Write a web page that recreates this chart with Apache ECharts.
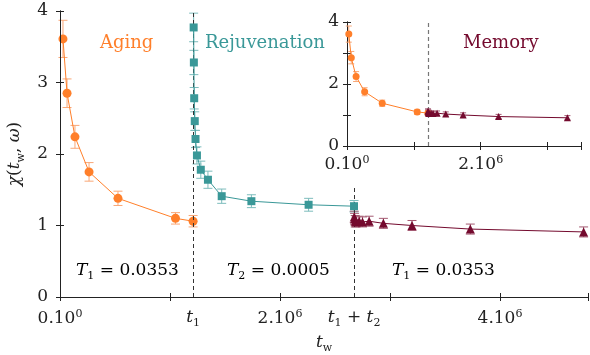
<!DOCTYPE html>
<html>
<head>
<meta charset="utf-8">
<script src="https://cdn.jsdelivr.net/npm/echarts@6/dist/echarts.min.js"></script>
<style>
html, body { margin: 0; padding: 0; background: #fff; }
#box1 { width: 590px; height: 355px; }
</style>
</head>
<body>
<div id="box1"></div>
<script>
var dom = document.getElementById("box1");
var myChart = echarts.init(dom);

// waiting times (same units as the axis) and susceptibility values
var t1 = 1210000;
var t2 = 1463000;

var agingX = [27000, 64000, 136000, 264000, 527000, 1050000, 1210000];
var agingY = [3.61, 2.85, 2.24, 1.75, 1.38, 1.10, 1.06];
var agingErr = [0.26, 0.20, 0.16, 0.13, 0.10, 0.08, 0.08];

var rejuvX = [1215000, 1217000, 1220000, 1225000, 1232000, 1245000, 1280000, 1345000, 1470000, 1740000, 2260000, 2673000];
var rejuvY = [3.77, 3.28, 2.78, 2.46, 2.21, 1.98, 1.78, 1.64, 1.41, 1.34, 1.29, 1.27];
var rejuvErr = [0.20, 0.17, 0.15, 0.13, 0.12, 0.12, 0.12, 0.12, 0.10, 0.09, 0.09, 0.08];

var memoryX = [2675000, 2678000, 2684000, 2692000, 2720000, 2750000, 2810000, 2940000, 3200000, 3730000, 4760000];
var memoryY = [1.12, 1.09, 1.06, 1.05, 1.06, 1.05, 1.06, 1.03, 1.00, 0.95, 0.91];
var memoryErr = [0.08, 0.08, 0.08, 0.07, 0.07, 0.07, 0.07, 0.07, 0.07, 0.07, 0.07];

var mainXLabels = [0, t1, 2000000, t1 + t2, 4000000];
var insetXLabels = [0, 2000000];
var insetYLabels = [0, 2, 4];

var cOrange = '#ff7f2a', cOrangeErr = '#f9a777';
var cTeal = '#3a9898', cTealErr = '#7cbcbc';
var cRed = '#740a2e', cRedErr = '#a45a72';
var font = '"DejaVu Serif", serif';

var rich = {
    n: { fontFamily: font, fontSize: 17, color: '#222' },
    i: { fontFamily: font, fontSize: 17, fontStyle: 'italic', color: '#222' },
    sup: { fontFamily: font, fontSize: 11, color: '#222', verticalAlign: 'bottom', padding: [0, 0, 9, 0] },
    sub: { fontFamily: font, fontSize: 11, color: '#222', verticalAlign: 'bottom', padding: [0, 0, -3, 0] },
    subr: { fontFamily: font, fontSize: 11, color: '#222', verticalAlign: 'bottom', padding: [0, 0, -3, 0] }
};

function pow10Label(v) {
    if (v === 0) return '{n|0.10}{sup|0}';
    if (Math.abs(v - t1) < 1) return '{i|t}{sub|1}';
    if (Math.abs(v - (t1 + t2)) < 1) return '{i|t}{sub|1}{n| + }{i|t}{sub|2}';
    return '{n|' + (v / 1000000) + '.10}{sup|6}';
}

function pairs(xs, ys, es) {
    var res = [];
    for (var i = 0; i < xs.length; i++) res.push([xs[i], ys[i], es ? es[i] : 0]);
    return res;
}
function shifted(xs, d) {
    return xs.map(function (x) { return x - d; });
}

function errorBars(color, cap) {
    return function (params, api) {
        var x = api.value(0), y = api.value(1), e = api.value(2);
        var hi = api.coord([x, y + e]);
        var lo = api.coord([x, y - e]);
        var st = { stroke: color, lineWidth: 1 };
        return {
            type: 'group',
            children: [
                { type: 'line', shape: { x1: hi[0], y1: hi[1], x2: lo[0], y2: lo[1] }, style: st },
                { type: 'line', shape: { x1: hi[0] - cap, y1: hi[1], x2: hi[0] + cap, y2: hi[1] }, style: st },
                { type: 'line', shape: { x1: lo[0] - cap, y1: lo[1], x2: lo[0] + cap, y2: lo[1] }, style: st }
            ]
        };
    };
}

function valueAxis(opt) {
    var base = {
        type: 'value',
        axisLine: { show: true, lineStyle: { color: '#222', width: 1 } },
        axisTick: { show: true, inside: true, length: 4, lineStyle: { color: '#222' } },
        splitLine: { show: false },
        axisLabel: { show: false }
    };
    for (var k in opt) base[k] = opt[k];
    return base;
}

option = {
    backgroundColor: '#fff',
    animation: false,
    grid: [
        { left: 60, right: 2, top: 11, bottom: 58, containLabel: false, outerBoundsMode: 'none' },
        { left: 347, right: 9, top: 22, bottom: 209, z: 60, containLabel: false, outerBoundsMode: 'none' }
    ],
    xAxis: [
        valueAxis({
            gridIndex: 0, min: 0, max: 4800000, interval: 1000000,
            name: '{i|t}{subr|w}', nameLocation: 'middle', nameGap: 35,
            nameTextStyle: { rich: rich },
            axisLabel: { show: true, margin: 12, customValues: mainXLabels, formatter: pow10Label, rich: rich }
        }),
        valueAxis({ gridIndex: 0, position: 'top', min: 0, max: 4800000, interval: 1000000, z: 55 }),
        valueAxis({
            gridIndex: 1, min: 0, max: 3500000, interval: 1000000, z: 60,
            axisLabel: { show: true, margin: 9, customValues: insetXLabels, formatter: pow10Label, rich: rich }
        }),
        valueAxis({ gridIndex: 1, position: 'top', min: 0, max: 3500000, interval: 1000000, z: 60 })
    ],
    yAxis: [
        valueAxis({
            gridIndex: 0, min: 0, max: 4, interval: 1,
            name: '{c|χ}{n|(}{i|t}{subr|w}{n|, }{i|ω}{n|)}', nameLocation: 'middle', nameGap: 33, nameRotate: 90,
            nameTextStyle: { rich: Object.assign({ c: { fontFamily: font, fontSize: 17, fontStyle: 'italic', color: '#222' } }, rich) },
            axisLabel: { show: true, margin: 12, fontFamily: font, fontSize: 17, color: '#222' }
        }),
        valueAxis({ gridIndex: 0, position: 'right', min: 0, max: 4, interval: 1, z: 55 }),
        valueAxis({
            gridIndex: 1, min: 0, max: 4, interval: 1, z: 60,
            axisLabel: { show: true, margin: 8, customValues: insetYLabels, fontFamily: font, fontSize: 17, color: '#222' }
        }),
        valueAxis({ gridIndex: 1, position: 'right', min: 0, max: 4, interval: 1, z: 60 })
    ],
    graphic: [
        // white card behind the inset
        { type: 'rect', z: 50, shape: { x: 326, y: 12, width: 257, height: 176 }, style: { fill: '#fff' } },
        { type: 'text', z: 80, left: 100, top: 34, style: { text: 'Aging', fill: cOrange, font: '18px "DejaVu Serif", serif' } },
        { type: 'text', z: 80, left: 205, top: 34, style: { text: 'Rejuvenation', fill: cTeal, font: '18px "DejaVu Serif", serif' } },
        { type: 'text', z: 80, left: 463, top: 34, style: { text: 'Memory', fill: cRed, font: '18px "DejaVu Serif", serif' } },
        { type: 'text', z: 80, left: 76, top: 262, style: { text: '{i|T}{sub|1}{n| = 0.0353}', rich: rich } },
        { type: 'text', z: 80, left: 227, top: 262, style: { text: '{i|T}{sub|2}{n| = 0.0005}', rich: rich } },
        { type: 'text', z: 80, left: 392, top: 262, style: { text: '{i|T}{sub|1}{n| = 0.0353}', rich: rich } }
    ],
    series: [
        {
            type: 'custom', xAxisIndex: 0, yAxisIndex: 0, z: 3,
            renderItem: errorBars(cOrangeErr, 4.5), data: pairs(agingX, agingY, agingErr)
        },
        {
            type: 'line', xAxisIndex: 0, yAxisIndex: 0, z: 4,
            data: pairs(agingX, agingY), symbol: 'circle', symbolSize: 9,
            lineStyle: { color: cOrange, width: 1 }, itemStyle: { color: cOrange },
            markLine: {
                silent: true, symbol: 'none', label: { show: false },
                lineStyle: { color: '#333', type: [4, 3], width: 1 },
                data: [{ xAxis: t1 }, { xAxis: t1 + t2 }]
            }
        },
        {
            type: 'custom', xAxisIndex: 0, yAxisIndex: 0, z: 3,
            renderItem: errorBars(cTealErr, 4.5), data: pairs(rejuvX, rejuvY, rejuvErr)
        },
        {
            type: 'line', xAxisIndex: 0, yAxisIndex: 0, z: 6,
            data: pairs(rejuvX, rejuvY), symbol: 'rect', symbolSize: 8,
            lineStyle: { color: cTeal, width: 1 }, itemStyle: { color: cTeal }
        },
        {
            type: 'custom', xAxisIndex: 0, yAxisIndex: 0, z: 3,
            renderItem: errorBars(cRedErr, 4.5), data: pairs(memoryX, memoryY, memoryErr)
        },
        {
            type: 'line', xAxisIndex: 0, yAxisIndex: 0, z: 6,
            data: pairs(memoryX, memoryY), symbol: 'triangle', symbolSize: 9,
            lineStyle: { color: cRed, width: 1 }, itemStyle: { color: cRed }
        },
        // inset
        {
            type: 'custom', xAxisIndex: 2, yAxisIndex: 2, z: 70,
            renderItem: errorBars(cOrangeErr, 3), data: pairs(agingX, agingY, agingErr)
        },
        {
            type: 'line', xAxisIndex: 2, yAxisIndex: 2, z: 71,
            data: pairs(agingX, agingY), symbol: 'circle', symbolSize: 7,
            lineStyle: { color: cOrange, width: 1 }, itemStyle: { color: cOrange },
            markLine: {
                silent: true, symbol: 'none', label: { show: false }, z: 70,
                lineStyle: { color: '#777', type: [4, 3], width: 1.2 },
                data: [{ xAxis: t1 }]
            }
        },
        {
            type: 'custom', xAxisIndex: 2, yAxisIndex: 2, z: 70,
            renderItem: errorBars(cRedErr, 3), data: pairs(shifted(memoryX, t2), memoryY, memoryErr)
        },
        {
            type: 'line', xAxisIndex: 2, yAxisIndex: 2, z: 71,
            data: pairs(shifted(memoryX, t2), memoryY), symbol: 'triangle', symbolSize: 7,
            lineStyle: { color: cRed, width: 1 }, itemStyle: { color: cRed }
        }
    ]
};
if (option && typeof option === "object") {
    myChart.setOption(option, true);
}
</script>
</body>
</html>
